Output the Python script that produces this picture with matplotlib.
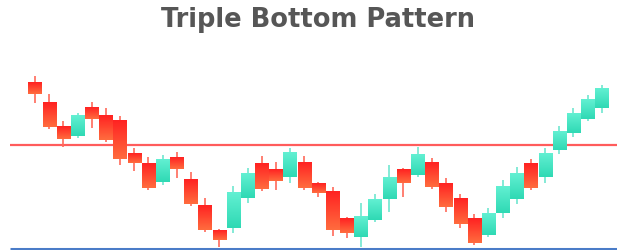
import numpy as np
import matplotlib
matplotlib.use("Agg")
import matplotlib.pyplot as plt
from matplotlib.colors import LinearSegmentedColormap

# OHLC values (arbitrary price units)
opens  = [168,148,124,114,143,135,130, 97, 87, 68, 93, 71, 45, 20, 22, 52, 87, 81, 73, 88, 67,
          59, 32, 13, 30, 51, 81, 75, 88, 67, 52, 32, 15, 37, 51, 87, 73,100,117,131,142]
closes = [156,123,111,135,131,110, 91, 87, 62, 91, 81, 46, 20, 10, 58, 77, 61, 69, 98, 62, 57,
          20, 17, 34, 51, 73, 67, 96, 63, 43, 26,  7, 37, 64, 77, 62, 97,119,137,151,162]
highs  = [174,156,129,137,148,142,134,102, 93, 95, 98, 78, 52, 21, 64, 82, 94, 88,102, 94, 68,
          63, 33, 47, 56, 85, 82,103, 92, 72, 56, 36, 42, 70, 83, 91,102,124,142,155,165]
lows   = [147,121,103,112,122,108, 85, 79, 60, 65, 72, 44, 18,  3, 17, 47, 59, 60, 67, 60, 53,
          14, 12,  3, 28, 38, 53, 73, 61, 38, 22,  5, 13, 32, 46, 60, 67, 96,113,129,137]
resistance = 105
support = 1.5
title = "Triple Bottom Pattern"

W, H = 617, 250
fig = plt.figure(figsize=(W/100, H/100), dpi=100)
fig.patch.set_facecolor("white")
ax = fig.add_axes([0, 0, 1, 1])
step = 14.17
x0 = 35
ax.axis("off")

red_cmap = LinearSegmentedColormap.from_list("r", ["#ff6c3e", "#ff2222"])
green_cmap = LinearSegmentedColormap.from_list("g", ["#2fd9b4", "#62f0d2"])
grad = np.linspace(0, 1, 64).reshape(-1, 1)

bw = 0.93
for i, (o, c, h, l) in enumerate(zip(opens, closes, highs, lows)):
    up = c >= o
    wick_col = "#6fe6cf" if up else "#ff6a5a"
    ax.plot([i, i], [l, h], color=wick_col, lw=1.2, zorder=2, solid_capstyle="butt")
    lo, hi = min(o, c), max(o, c)
    ax.imshow(grad, cmap=green_cmap if up else red_cmap, origin="lower",
              extent=[i - bw/2, i + bw/2, lo, hi], aspect="auto", zorder=3,
              interpolation="bilinear")

ax.set_xlim(-x0/step, (W - x0)/step)
ax.set_ylim(0, H)
xs = -x0/step + 10/step
ax.plot([xs, (W - x0)/step], [resistance, resistance], color="#ff5c5c", lw=1.6, zorder=1,
        solid_capstyle="butt")
ax.plot([xs, (W - x0)/step], [support, support], color="#4a7cc8", lw=2.2, zorder=4,
        solid_capstyle="butt")

fig.text(318/W, 1 - 26.7/H, title, ha="center", va="baseline", fontsize=18.5,
         fontweight="bold", color="#565656", family="DejaVu Sans")

fig.savefig("out.png", dpi=100, facecolor="white")
